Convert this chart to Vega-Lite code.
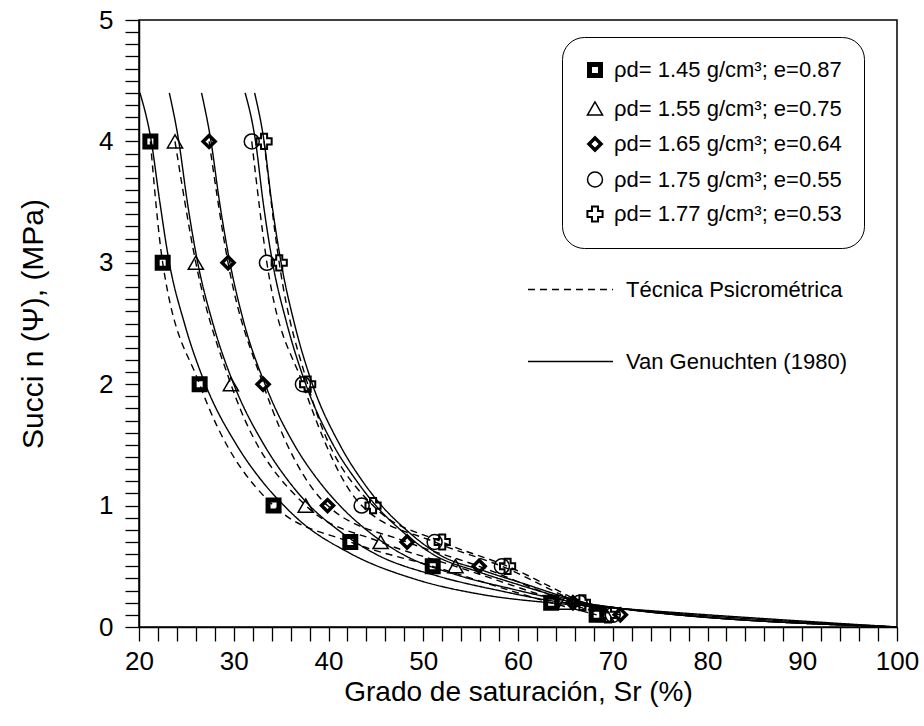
{
  "$schema": "https://vega.github.io/schema/vega-lite/v6.json",
  "width": 758,
  "height": 607,
  "autosize": "none",
  "padding": {"left": 139, "top": 20, "right": 27, "bottom": 99},
  "background": "white",
  "config": {
    "font": "Liberation Sans",
    "view": {"stroke": "black", "strokeWidth": 1.5},
    "axis": {
      "grid": false,
      "domainColor": "black",
      "domainWidth": 1.5,
      "tickColor": "black",
      "tickWidth": 1.3,
      "labelColor": "black",
      "labelFont": "Liberation Sans",
      "titleFont": "Liberation Sans",
      "titleFontWeight": "normal",
      "titleColor": "black"
    },
    "legend": {
      "labelFont": "Liberation Sans",
      "labelColor": "black"
    }
  },
  "datasets": {
    "pts": [
      {"s": "1.45", "sr": 21.2, "psi": 4}, {"s": "1.45", "sr": 22.5, "psi": 3}, {"s": "1.45", "sr": 26.4, "psi": 2}, {"s": "1.45", "sr": 34.2, "psi": 1},
      {"s": "1.45", "sr": 42.3, "psi": 0.7}, {"s": "1.45", "sr": 51.0, "psi": 0.5}, {"s": "1.45", "sr": 63.5, "psi": 0.2}, {"s": "1.45", "sr": 68.3, "psi": 0.1},
      {"s": "1.55", "sr": 23.8, "psi": 4}, {"s": "1.55", "sr": 26.0, "psi": 3}, {"s": "1.55", "sr": 29.7, "psi": 2}, {"s": "1.55", "sr": 37.6, "psi": 1},
      {"s": "1.55", "sr": 45.5, "psi": 0.7}, {"s": "1.55", "sr": 53.4, "psi": 0.5}, {"s": "1.55", "sr": 65.0, "psi": 0.2}, {"s": "1.55", "sr": 69.3, "psi": 0.1},
      {"s": "1.65", "sr": 27.4, "psi": 4}, {"s": "1.65", "sr": 29.4, "psi": 3}, {"s": "1.65", "sr": 33.1, "psi": 2}, {"s": "1.65", "sr": 39.9, "psi": 1},
      {"s": "1.65", "sr": 48.3, "psi": 0.7}, {"s": "1.65", "sr": 55.9, "psi": 0.5}, {"s": "1.65", "sr": 65.8, "psi": 0.2}, {"s": "1.65", "sr": 70.8, "psi": 0.1},
      {"s": "1.75", "sr": 31.9, "psi": 4}, {"s": "1.75", "sr": 33.5, "psi": 3}, {"s": "1.75", "sr": 37.3, "psi": 2}, {"s": "1.75", "sr": 43.5, "psi": 1},
      {"s": "1.75", "sr": 51.2, "psi": 0.7}, {"s": "1.75", "sr": 58.3, "psi": 0.5}, {"s": "1.75", "sr": 66.5, "psi": 0.2}, {"s": "1.75", "sr": 70.0, "psi": 0.1},
      {"s": "1.77", "sr": 33.2, "psi": 4}, {"s": "1.77", "sr": 34.8, "psi": 3}, {"s": "1.77", "sr": 37.8, "psi": 2}, {"s": "1.77", "sr": 44.7, "psi": 1},
      {"s": "1.77", "sr": 52.0, "psi": 0.7}, {"s": "1.77", "sr": 58.9, "psi": 0.5}, {"s": "1.77", "sr": 66.8, "psi": 0.2}, {"s": "1.77", "sr": 69.5, "psi": 0.1}
    ],
    "vg": [
      {"s": "1.45", "sr": 20.1, "psi": 4.4}, {"s": "1.45", "sr": 21.3, "psi": 4.0}, {"s": "1.45", "sr": 22.2, "psi": 3.5}, {"s": "1.45", "sr": 23.2, "psi": 3.0},
      {"s": "1.45", "sr": 24.8, "psi": 2.5}, {"s": "1.45", "sr": 27.0, "psi": 2.0}, {"s": "1.45", "sr": 30.3, "psi": 1.5}, {"s": "1.45", "sr": 33.0, "psi": 1.2},
      {"s": "1.45", "sr": 35.3, "psi": 1.0}, {"s": "1.45", "sr": 36.9, "psi": 0.88}, {"s": "1.45", "sr": 42.2, "psi": 0.61}, {"s": "1.45", "sr": 49.3, "psi": 0.39},
      {"s": "1.45", "sr": 56.0, "psi": 0.27}, {"s": "1.45", "sr": 63.3, "psi": 0.2}, {"s": "1.45", "sr": 68.0, "psi": 0.17}, {"s": "1.45", "sr": 100, "psi": 0},
      {"s": "1.55", "sr": 23.2, "psi": 4.4}, {"s": "1.55", "sr": 24.2, "psi": 4.0}, {"s": "1.55", "sr": 25.1, "psi": 3.5}, {"s": "1.55", "sr": 26.2, "psi": 3.0},
      {"s": "1.55", "sr": 27.8, "psi": 2.5}, {"s": "1.55", "sr": 30.0, "psi": 2.0}, {"s": "1.55", "sr": 33.2, "psi": 1.5}, {"s": "1.55", "sr": 35.8, "psi": 1.2},
      {"s": "1.55", "sr": 38.0, "psi": 1.0}, {"s": "1.55", "sr": 41.0, "psi": 0.8}, {"s": "1.55", "sr": 45.0, "psi": 0.6}, {"s": "1.55", "sr": 51.5, "psi": 0.42},
      {"s": "1.55", "sr": 58.0, "psi": 0.3}, {"s": "1.55", "sr": 64.0, "psi": 0.21}, {"s": "1.55", "sr": 68.0, "psi": 0.175}, {"s": "1.55", "sr": 100, "psi": 0},
      {"s": "1.65", "sr": 26.6, "psi": 4.4}, {"s": "1.65", "sr": 27.6, "psi": 4.0}, {"s": "1.65", "sr": 28.5, "psi": 3.5}, {"s": "1.65", "sr": 29.6, "psi": 3.0},
      {"s": "1.65", "sr": 31.1, "psi": 2.5}, {"s": "1.65", "sr": 33.3, "psi": 2.0}, {"s": "1.65", "sr": 36.4, "psi": 1.5}, {"s": "1.65", "sr": 39.0, "psi": 1.2},
      {"s": "1.65", "sr": 41.2, "psi": 1.0}, {"s": "1.65", "sr": 44.0, "psi": 0.8}, {"s": "1.65", "sr": 47.8, "psi": 0.6}, {"s": "1.65", "sr": 53.5, "psi": 0.43},
      {"s": "1.65", "sr": 59.0, "psi": 0.32}, {"s": "1.65", "sr": 64.8, "psi": 0.22}, {"s": "1.65", "sr": 68.2, "psi": 0.178}, {"s": "1.65", "sr": 100, "psi": 0},
      {"s": "1.75", "sr": 31.2, "psi": 4.4}, {"s": "1.75", "sr": 32.3, "psi": 4.0}, {"s": "1.75", "sr": 33.1, "psi": 3.5}, {"s": "1.75", "sr": 34.1, "psi": 3.0},
      {"s": "1.75", "sr": 35.6, "psi": 2.5}, {"s": "1.75", "sr": 37.6, "psi": 2.0}, {"s": "1.75", "sr": 40.5, "psi": 1.5}, {"s": "1.75", "sr": 43.0, "psi": 1.2},
      {"s": "1.75", "sr": 45.0, "psi": 1.0}, {"s": "1.75", "sr": 47.6, "psi": 0.8}, {"s": "1.75", "sr": 51.0, "psi": 0.6}, {"s": "1.75", "sr": 56.0, "psi": 0.45},
      {"s": "1.75", "sr": 60.0, "psi": 0.35}, {"s": "1.75", "sr": 65.3, "psi": 0.23}, {"s": "1.75", "sr": 68.3, "psi": 0.18}, {"s": "1.75", "sr": 100, "psi": 0},
      {"s": "1.77", "sr": 32.2, "psi": 4.4}, {"s": "1.77", "sr": 33.2, "psi": 4.0}, {"s": "1.77", "sr": 34.0, "psi": 3.5}, {"s": "1.77", "sr": 35.0, "psi": 3.0},
      {"s": "1.77", "sr": 36.4, "psi": 2.5}, {"s": "1.77", "sr": 38.3, "psi": 2.0}, {"s": "1.77", "sr": 41.2, "psi": 1.5}, {"s": "1.77", "sr": 43.6, "psi": 1.2},
      {"s": "1.77", "sr": 45.6, "psi": 1.0}, {"s": "1.77", "sr": 48.2, "psi": 0.8}, {"s": "1.77", "sr": 51.6, "psi": 0.6}, {"s": "1.77", "sr": 56.5, "psi": 0.46},
      {"s": "1.77", "sr": 60.5, "psi": 0.36}, {"s": "1.77", "sr": 65.5, "psi": 0.235}, {"s": "1.77", "sr": 68.4, "psi": 0.18}, {"s": "1.77", "sr": 100, "psi": 0}
    ]
  },
  "encoding": {
    "x": {
      "field": "sr", "type": "quantitative",
      "scale": {"domain": [20, 100], "nice": false, "zero": false},
      "axis": {
        "title": "Grado de saturación, Sr (%)",
        "values": [20,22,24,26,28,30,32,34,36,38,40,42,44,46,48,50,52,54,56,58,60,62,64,66,68,70,72,74,76,78,80,82,84,86,88,90,92,94,96,98,100],
        "tickCount": 200,
        "labelExpr": "datum.value % 10 === 0 ? format(datum.value, 'd') : ''",
        "tickSize": 14,
        "encode": {"ticks": {"update": {"y2": {"signal": "datum.value % 10 === 0 ? 14 : 8"}}}},
        "labelFontSize": 26,
        "titleFontSize": 28,
        "labelPadding": 7,
        "titlePadding": 4,
        "labelFlush": false,
        "labelOverlap": false
      }
    },
    "y": {
      "field": "psi", "type": "quantitative",
      "scale": {"domain": [0, 5], "nice": false},
      "axis": {
        "title": "Succi n (Ψ), (MPa)",
        "values": [0,0.1,0.2,0.3,0.4,0.5,0.6,0.7,0.8,0.9,1,1.1,1.2,1.3,1.4,1.5,1.6,1.7,1.8,1.9,2,2.1,2.2,2.3,2.4,2.5,2.6,2.7,2.8,2.9,3,3.1,3.2,3.3,3.4,3.5,3.6,3.7,3.8,3.9,4,4.1,4.2,4.3,4.4,4.5,4.6,4.7,4.8,4.9,5],
        "tickCount": 200,
        "labelExpr": "abs(datum.value - round(datum.value)) < 0.01 ? format(datum.value, 'd') : ''",
        "tickSize": 14,
        "encode": {"ticks": {"update": {"x2": {"signal": "abs(datum.value - round(datum.value)) < 0.01 ? -14 : -7"}}}},
        "labelFontSize": 26,
        "titleFontSize": 30,
        "labelPadding": 12,
        "titlePadding": 50,
        "labelFlush": false,
        "labelOverlap": false
      }
    }
  },
  "layer": [
    {
      "data": {"name": "vg"},
      "mark": {"type": "line", "color": "black", "strokeWidth": 1.4, "interpolate": "monotone"},
      "encoding": {
        "detail": {"field": "s"},
        "strokeDash": {
          "datum": "V",
          "scale": {"domain": ["T", "V"], "range": [[7, 5], [1, 0]]},
          "legend": {
            "title": null,
            "orient": "none",
            "legendX": 388,
            "legendY": 226,
            "symbolType": "stroke",
            "symbolSize": 7225,
            "symbolStrokeWidth": 1.4,
            "symbolStrokeColor": "black",
            "labelFontSize": 22,
            "labelOffset": 12,
            "labelLimit": 400,
            "rowPadding": 17,
            "labelExpr": "datum.label == 'T' ? 'Técnica Psicrométrica' : 'Van Genuchten (1980)'"
          }
        }
      }
    },
    {
      "data": {"name": "pts"},
      "mark": {"type": "line", "color": "black", "strokeWidth": 1.4, "interpolate": "monotone"},
      "encoding": {
        "detail": {"field": "s"},
        "strokeDash": {"datum": "T"}
      }
    },
    {
      "data": {"name": "pts"},
      "mark": {"type": "point", "filled": false, "stroke": "black", "opacity": 1},
      "encoding": {
        "shape": {
          "field": "s", "type": "nominal",
          "scale": {"domain": ["1.45", "1.55", "1.65", "1.75", "1.77"], "range": ["square", "triangle-up", "diamond", "circle", "cross"]},
          "legend": {
            "title": null,
            "orient": "none",
            "legendX": 423,
            "legendY": 17,
            "strokeColor": "black",
            "cornerRadius": 22,
            "padding": 22,
            "fillColor": "white",
            "labelFontSize": 22,
            "labelOffset": 8,
            "labelLimit": 400,
            "rowPadding": 11.5,
            "symbolStrokeColor": "black",
            "symbolFillColor": "transparent",
            "labelExpr": "'ρd= ' + datum.label + ' g/cm³; e=' + (datum.label == '1.45' ? '0.87' : datum.label == '1.55' ? '0.75' : datum.label == '1.65' ? '0.64' : datum.label == '1.75' ? '0.55' : '0.53') + '\u00a0\u00a0\u00a0\u00a0\u00a0'"
          }
        },
        "strokeWidth": {
          "field": "s", "type": "nominal",
          "scale": {"type": "ordinal", "domain": ["1.45", "1.55", "1.65", "1.75", "1.77"], "range": [5, 1.5, 3.5, 1.5, 2]},
          "legend": {"title": null}
        },
        "size": {
          "field": "s", "type": "nominal",
          "scale": {"type": "ordinal", "domain": ["1.45", "1.55", "1.65", "1.75", "1.77"], "range": [121, 230, 144, 225, 230]},
          "legend": {"title": null}
        }
      }
    }
  ]
}
